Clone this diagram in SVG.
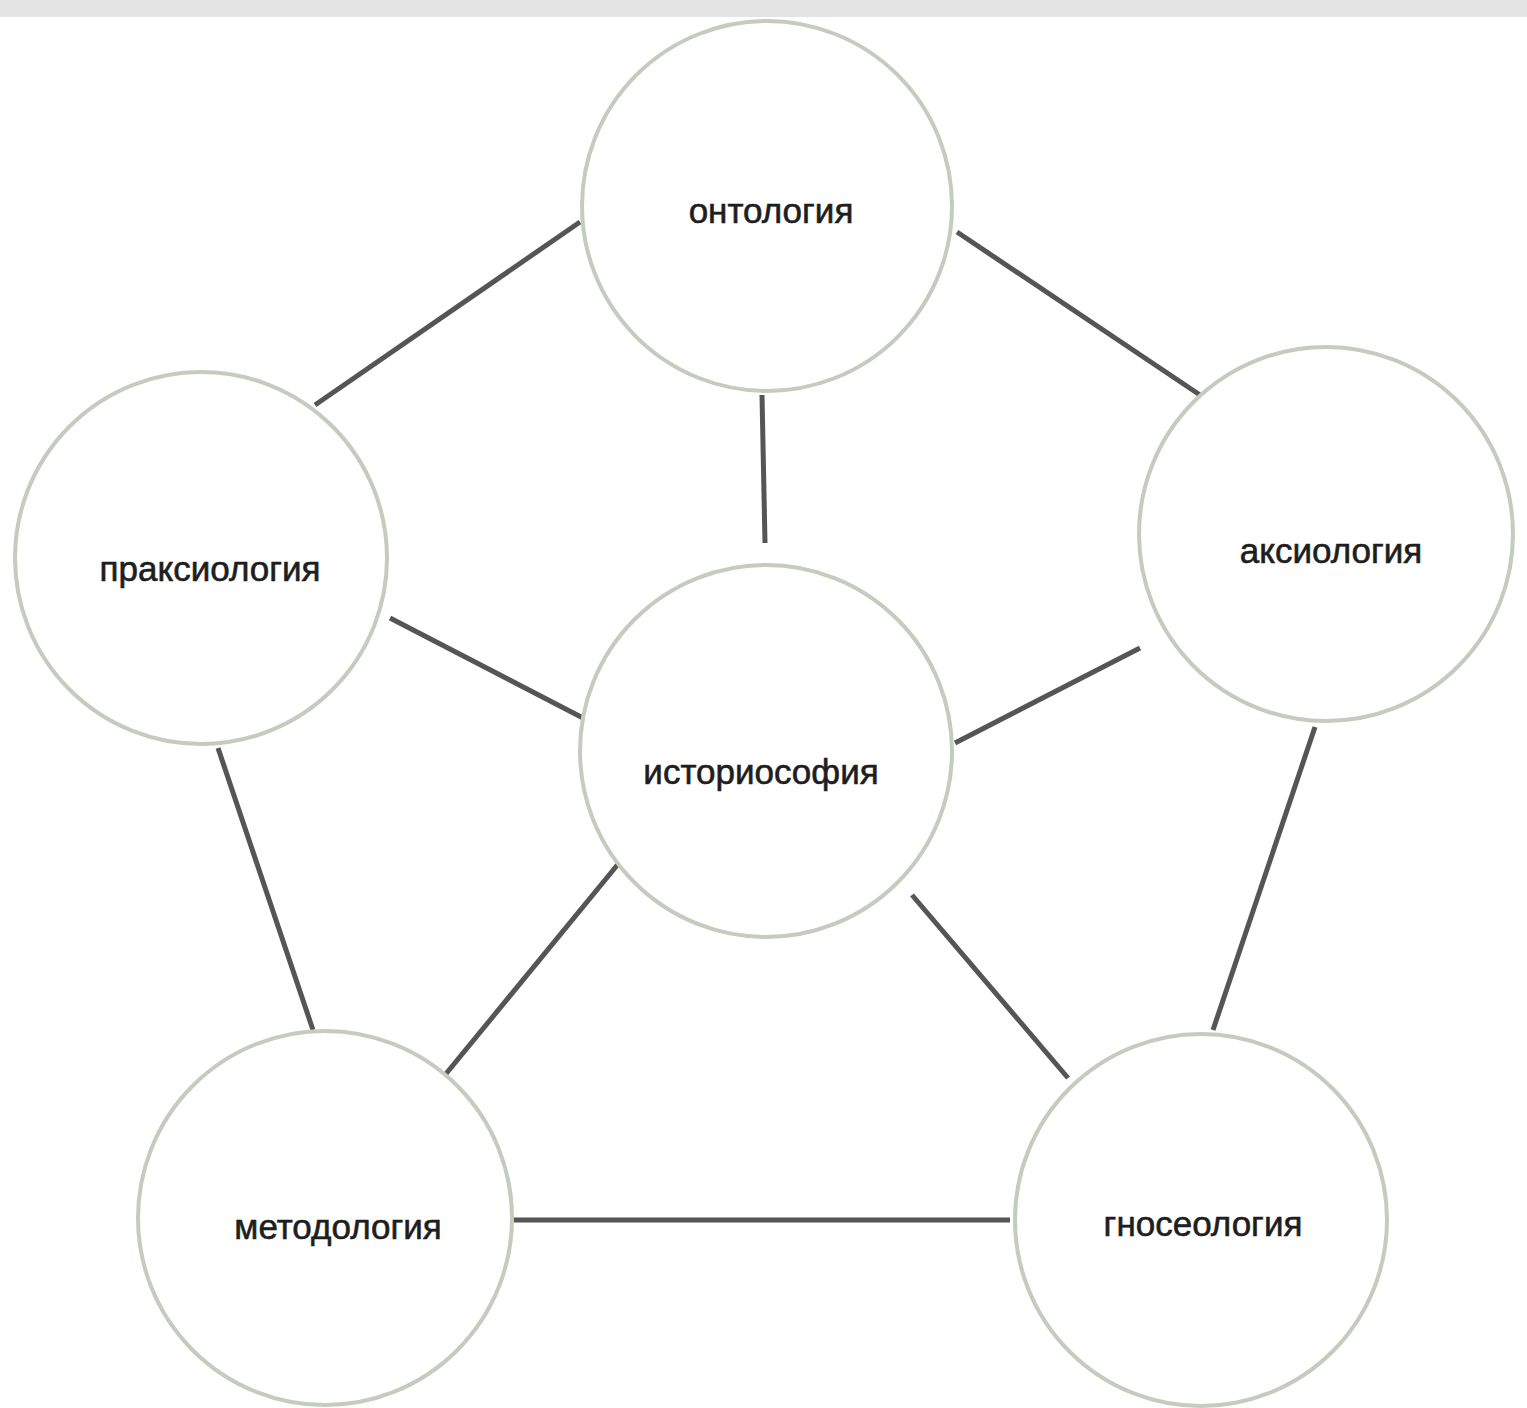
<svg xmlns="http://www.w3.org/2000/svg" width="1527" height="1408" viewBox="0 0 1527 1408">
<style>
.node circle{fill:#ffffff;stroke:#c5cbbd;stroke-width:4}
.node text{font-family:"Liberation Sans",Arial,sans-serif;font-size:35px;fill:#1e1e1e;stroke:#1e1e1e;stroke-width:0.6;text-anchor:middle}
.edges line{stroke:#555555;stroke-width:5;stroke-linecap:butt}
</style>
<rect x="0" y="0" width="1527" height="1408" fill="#ffffff"/>
<rect x="0" y="0" width="1527" height="17" fill="#e4e4e4"/>
<g class="edges">
<line x1="580" y1="222" x2="315" y2="405"/>
<line x1="957" y1="232" x2="1200" y2="395"/>
<line x1="762" y1="395" x2="765" y2="543"/>
<line x1="390" y1="618" x2="583" y2="718"/>
<line x1="1140" y1="648" x2="955" y2="743"/>
<line x1="218" y1="748" x2="313" y2="1030"/>
<line x1="445" y1="1075" x2="628" y2="852"/>
<line x1="912" y1="895" x2="1068" y2="1078"/>
<line x1="1315" y1="727" x2="1213" y2="1030"/>
<line x1="514" y1="1220" x2="1010" y2="1220"/>
</g>
<g class="node" id="ontologiya"><circle cx="767" cy="206" r="185"/><text x="771" y="223">онтология</text></g>
<g class="node" id="istoriosofiya"><circle cx="766" cy="751" r="186"/><text x="761" y="784">историософия</text></g>
<g class="node" id="praksiologiya"><circle cx="201" cy="558" r="186"/><text x="210" y="581">праксиология</text></g>
<g class="node" id="aksiologiya"><circle cx="1326" cy="534" r="187"/><text x="1331" y="563">аксиология</text></g>
<g class="node" id="metodologiya"><circle cx="325" cy="1218" r="187"/><text x="338" y="1239">методология</text></g>
<g class="node" id="gnoseologiya"><circle cx="1201" cy="1220" r="186"/><text x="1203" y="1236">гносеология</text></g>
</svg>
